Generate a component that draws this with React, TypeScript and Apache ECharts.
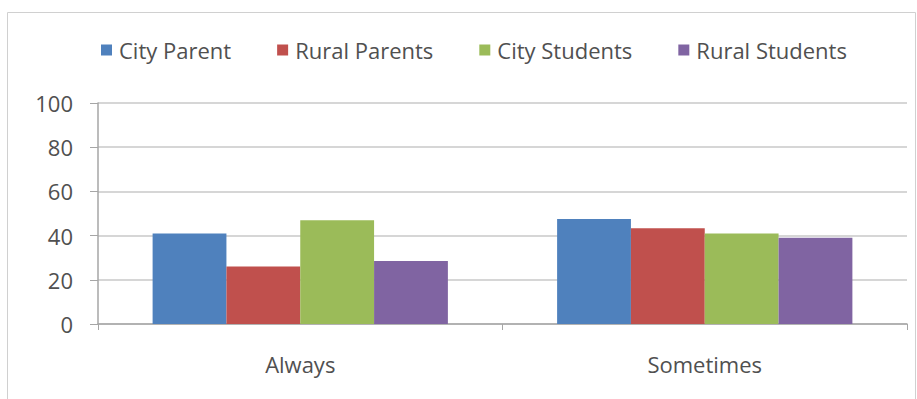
import React, { useEffect, useRef } from "react";
import * as echarts from "echarts";

const categories = ["Always", "Sometimes"];
const seriesNames = ["City Parent", "Rural Parents", "City Students", "Rural Students"];
const cityParent = [41, 47.5];
const ruralParents = [26, 43.3];
const cityStudents = [47, 41];
const ruralStudents = [28.5, 39];
const yTicks = [0, 20, 40, 60, 80, 100];
const colors = ["#4F81BD", "#C0504D", "#9BBB59", "#8064A2"];

export default function App() {
  const ref = useRef<HTMLDivElement>(null);
  useEffect(() => {
    if (!ref.current) return;
    const chart = echarts.init(ref.current, null, { renderer: "svg" });
    const values = [cityParent, ruralParents, cityStudents, ruralStudents];
    const font = "'Open Sans', sans-serif";
    chart.setOption({
      animation: false,
      backgroundColor: "#ffffff",
      graphic: [
        {
          type: "rect",
          shape: { x: 7.5, y: 12.5, width: 908, height: 400 },
          style: { fill: "none", stroke: "#d0d0d0", lineWidth: 1 },
          silent: true,
        },
      ],
      legend: {
        top: 34,
        left: 96,
        itemWidth: 11,
        itemHeight: 11,
        itemGap: 46,
        icon: "rect",
        textStyle: { color: "#505050", fontSize: 22, fontFamily: font, padding: [0, 0, 0, 2] },
        data: seriesNames,
      },
      grid: { left: 98, right: 10, top: 103, bottom: 75, containLabel: false },
      xAxis: {
        type: "category",
        data: categories,
        axisLine: { lineStyle: { color: "#a6a6a6", width: 1.5 } },
        axisTick: { show: true, length: 6, lineStyle: { color: "#a6a6a6" } },
        axisLabel: { color: "#505050", fontSize: 22, fontFamily: font, margin: 29 },
      },
      yAxis: {
        type: "value",
        min: yTicks[0],
        max: yTicks[yTicks.length - 1],
        interval: 20,
        axisLine: { show: true, lineStyle: { color: "#a6a6a6", width: 1.5 } },
        axisTick: { show: true, length: 8, lineStyle: { color: "#a6a6a6" } },
        splitLine: { lineStyle: { color: "#c8c8c8", width: 1.5 } },
        axisLabel: { color: "#505050", fontSize: 22, fontFamily: font, margin: 25 },
      },
      series: seriesNames.map((name, i) => ({
        name,
        type: "bar",
        data: values[i],
        barGap: "0%",
        barCategoryGap: "27%",
        itemStyle: { color: colors[i] },
      })),
    });
    return () => chart.dispose();
  }, []);
  return (
    <div
      ref={ref}
      style={{ position: "absolute", left: 0, top: 0, width: 917, height: 399 }}
    />
  );
}
